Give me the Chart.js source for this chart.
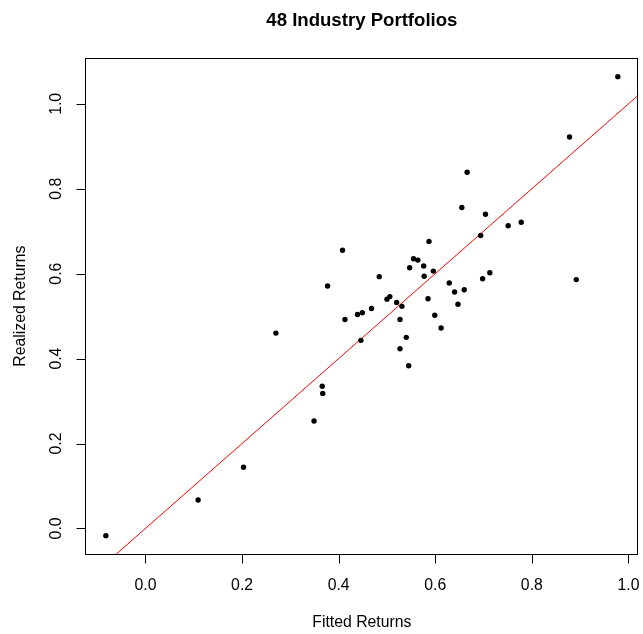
<!DOCTYPE html>
<html>
<head>
<meta charset="utf-8">
<title>48 Industry Portfolios</title>
<script src="https://cdn.jsdelivr.net/npm/chart.js@4/dist/chart.umd.min.js"></script>
<style>
  html, body { margin: 0; padding: 0; background: #ffffff; }
  #wrap { width: 643px; height: 634px; }
</style>
</head>
<body>
<div id="wrap"><canvas id="c" width="643" height="634"></canvas></div>
<script>
// Fitted vs. realized average returns for the 48 industry portfolios
const fittedReturns = [
  -0.082, 0.109, 0.203, 0.978, 0.878, 0.666, 0.655, 0.704, 0.751, 0.778,
   0.694, 0.587, 0.555, 0.564, 0.547, 0.576, 0.577, 0.596, 0.629, 0.640,
   0.660, 0.698, 0.713, 0.892, 0.585, 0.647, 0.531, 0.599, 0.527, 0.612,
   0.540, 0.408, 0.377, 0.484, 0.500, 0.506, 0.520, 0.468, 0.439, 0.449,
   0.413, 0.270, 0.446, 0.527, 0.545, 0.366, 0.367, 0.349
];
const realizedReturns = [
  -0.017, 0.067, 0.144, 1.064, 0.922, 0.839, 0.756, 0.740, 0.713, 0.721,
   0.690, 0.676, 0.635, 0.632, 0.614, 0.618, 0.594, 0.606, 0.578, 0.557,
   0.562, 0.588, 0.602, 0.586, 0.541, 0.528, 0.523, 0.502, 0.492, 0.472,
   0.450, 0.655, 0.571, 0.593, 0.540, 0.546, 0.532, 0.518, 0.504, 0.508,
   0.492, 0.460, 0.443, 0.423, 0.383, 0.335, 0.318, 0.253
];
// 45-degree reference line: realized = fitted
const refLineX = [-0.2, 1.2];
const refLineY = [-0.2, 1.2];

const xTicks = [0.0, 0.2, 0.4, 0.6, 0.8, 1.0];
const yTicks = [0.0, 0.2, 0.4, 0.6, 0.8, 1.0];

const chartTitle = '48 Industry Portfolios';
const xTitle = 'Fitted Returns';
const yTitle = 'Realized Returns';

// axis limits: data range widened by 4% on each side
function paddedRange(v) {
  const lo = Math.min(...v), hi = Math.max(...v), d = (hi - lo) * 0.04;
  return [lo - d, hi + d];
}
const [xMin, xMax] = paddedRange(fittedReturns);
const [yMin, yMax] = paddedRange(realizedReturns);

const points = fittedReturns.map((x, i) => ({ x, y: realizedReturns[i] }));
const refLine = refLineX.map((x, i) => ({ x, y: refLineY[i] }));

const FONT = '"Liberation Sans", Arial, Helvetica, sans-serif';

// base-graphics style frame, ticks and labels drawn from the chart scales
const framePlugin = {
  id: 'frame',
  afterDraw(chart) {
    const ctx = chart.ctx;
    const a = chart.chartArea;
    const xs = chart.scales.x, ys = chart.scales.y;
    const tickLen = 9;
    ctx.save();
    ctx.strokeStyle = '#000000';
    ctx.lineWidth = 1;
    ctx.strokeRect(Math.round(a.left) + 0.5, Math.round(a.top) + 0.5,
                   Math.round(a.right - a.left) - 1, Math.round(a.bottom - a.top));

    const bottom = Math.round(a.bottom) + 0.5;
    const left = Math.round(a.left) + 0.5;

    // x axis
    ctx.beginPath();
    ctx.moveTo(Math.round(xs.getPixelForValue(xTicks[0])) + 0.5, bottom);
    ctx.lineTo(Math.round(xs.getPixelForValue(xTicks[xTicks.length - 1])) + 0.5, bottom);
    xTicks.forEach(t => {
      const px = Math.round(xs.getPixelForValue(t)) + 0.5;
      ctx.moveTo(px, bottom);
      ctx.lineTo(px, bottom + tickLen);
    });
    // y axis
    ctx.moveTo(left, Math.round(ys.getPixelForValue(yTicks[0])) + 0.5);
    ctx.lineTo(left, Math.round(ys.getPixelForValue(yTicks[yTicks.length - 1])) + 0.5);
    yTicks.forEach(t => {
      const py = Math.round(ys.getPixelForValue(t)) + 0.5;
      ctx.moveTo(left, py);
      ctx.lineTo(left - tickLen, py);
    });
    ctx.stroke();

    ctx.fillStyle = '#000000';
    ctx.font = '15.8px ' + FONT;
    ctx.textAlign = 'center';
    ctx.textBaseline = 'alphabetic';
    xTicks.forEach(t => {
      ctx.fillText(t.toFixed(1), xs.getPixelForValue(t), a.bottom + 35.5);
    });
    yTicks.forEach(t => {
      ctx.save();
      ctx.translate(a.left - 24.3, ys.getPixelForValue(t));
      ctx.rotate(-Math.PI / 2);
      ctx.fillText(t.toFixed(1), 0, 0);
      ctx.restore();
    });

    const cx = (a.left + a.right) / 2;
    const cy = (a.top + a.bottom) / 2;
    ctx.font = '15.8px ' + FONT;
    ctx.fillText(xTitle, cx, 627);
    ctx.save();
    ctx.translate(24.8, cy);
    ctx.rotate(-Math.PI / 2);
    ctx.fillText(yTitle, 0, 0);
    ctx.restore();

    ctx.font = 'bold 18.6px ' + FONT;
    ctx.fillText(chartTitle, cx, 26);
    ctx.restore();
  }
};

new Chart(document.getElementById('c'), {
  type: 'scatter',
  data: {
    datasets: [
      {
        type: 'line',
        data: refLine,
        borderColor: '#ff0000',
        borderWidth: 1,
        pointRadius: 0,
        fill: false,
        tension: 0,
        order: 2
      },
      {
        data: points,
        backgroundColor: '#000000',
        borderColor: '#000000',
        borderWidth: 0,
        pointRadius: 2.7,
        pointHoverRadius: 2.7,
        order: 1
      }
    ]
  },
  options: {
    responsive: false,
    animation: false,
    devicePixelRatio: 1,
    layout: { padding: { left: 85.4, right: 4.7, top: 58.3, bottom: 80 } },
    plugins: {
      legend: { display: false },
      title: { display: false },
      tooltip: { enabled: false }
    },
    scales: {
      x: { type: 'linear', display: false, min: xMin, max: xMax },
      y: { type: 'linear', display: false, min: yMin, max: yMax }
    }
  },
  plugins: [framePlugin]
});
</script>
</body>
</html>
